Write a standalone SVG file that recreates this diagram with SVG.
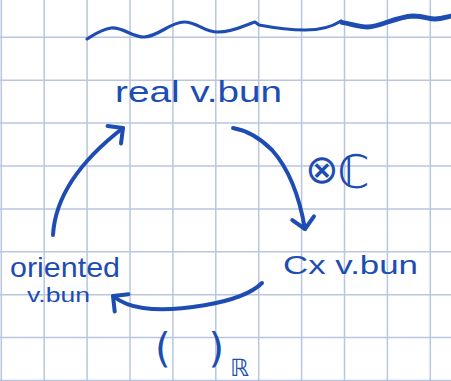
<svg xmlns="http://www.w3.org/2000/svg" width="451" height="381" viewBox="0 0 451 381">
  <style>
    .grid { stroke: #b9c6de; stroke-width: 1.5; fill: none; }
    .ink { stroke: #1d4db2; fill: none; stroke-linecap: round; stroke-linejoin: round; }
    .edge { stroke-width: 4; }
    .txt { fill: #1d4db2; font-family: "Liberation Sans", "DejaVu Sans", sans-serif; }
    .math { fill: #1d4db2; font-family: "DejaVu Sans", "Noto Sans", sans-serif; }
  </style>
  <defs>
    <marker id="head" markerUnits="userSpaceOnUse" markerWidth="30" markerHeight="30" refX="0" refY="0" viewBox="-15 -15 30 30" orient="auto" overflow="visible">
      <path d="M-11,-11 L0,0 L-11,11" stroke="#1d4db2" stroke-width="4" fill="none" stroke-linecap="round" stroke-linejoin="round"/>
    </marker>
  </defs>
  <rect width="451" height="381" fill="#ffffff"/>
  <g id="grid">
    <path class="grid" d="M1.3,0 V381 M44.2,0 V381 M87.1,0 V381 M130,0 V381 M172.9,0 V381 M215.8,0 V381 M258.7,0 V381 M301.6,0 V381 M344.5,0 V381 M387.4,0 V381 M430.3,0 V381"/>
    <path class="grid" d="M0,37.3 H451 M0,80.2 H451 M0,123.1 H451 M0,166 H451 M0,208.9 H451 M0,251.8 H451 M0,294.7 H451 M0,337.6 H451 M0,380.5 H451"/>
  </g>
  <g id="wave">
    <path class="ink" stroke-width="3.2" d="M87,39 C95,34 102,29 111,28 C123,27 132,37 144,37 C158,37 170,22 184,22 C198,22 203,32 218,32 C234,32 245,25 255,22 L259,25 C275,28 290,30 305,30 C320,30 332,27 341,21 L343,23"/>
    <path class="ink" stroke-width="4.8" d="M342,22.5 C352,24 358,27 368,27 C380,27 395,17 413,16 C425,16 428,19 435,19 C442,19 446,17 451,16"/>
  </g>
  <g id="connectors">
    <path id="e-oriented-real" class="ink edge" d="M53,235 C55,200 75,165 123,128" marker-end="url(#head)"/>
    <path id="e-real-cx" class="ink edge" d="M233,128 C250,131 262,140 272,150 C290,170 300,200 305,229" marker-end="url(#head)"/>
    <path id="e-cx-oriented" class="ink edge" d="M262,283 C240,305 170,312 143,308 C128,306 118,300 113,296" marker-end="url(#head)"/>
    <text id="label-tensor" class="math" x="305" y="183"><tspan font-size="40" dy="0">⊗</tspan><tspan font-size="46" dx="-1" dy="5">ℂ</tspan></text>
    <text id="label-real" class="math" x="155" y="362"><tspan font-size="40">(</tspan><tspan font-size="40" dx="38">)</tspan><tspan font-size="24" dx="6" dy="14">ℝ</tspan></text>
  </g>
  <g id="node-real">
    <text class="txt" x="115" y="102" font-size="30" textLength="167" lengthAdjust="spacingAndGlyphs">real v.bun</text>
  </g>
  <g id="node-cx">
    <text class="txt" x="283" y="274" font-size="25" textLength="135" lengthAdjust="spacingAndGlyphs">Cx v.bun</text>
  </g>
  <g id="node-oriented">
    <text class="txt" x="10" y="277" font-size="28" textLength="110" lengthAdjust="spacingAndGlyphs">oriented</text>
    <text class="txt" x="27" y="302" font-size="20" textLength="63" lengthAdjust="spacingAndGlyphs">v.bun</text>
  </g>
</svg>
